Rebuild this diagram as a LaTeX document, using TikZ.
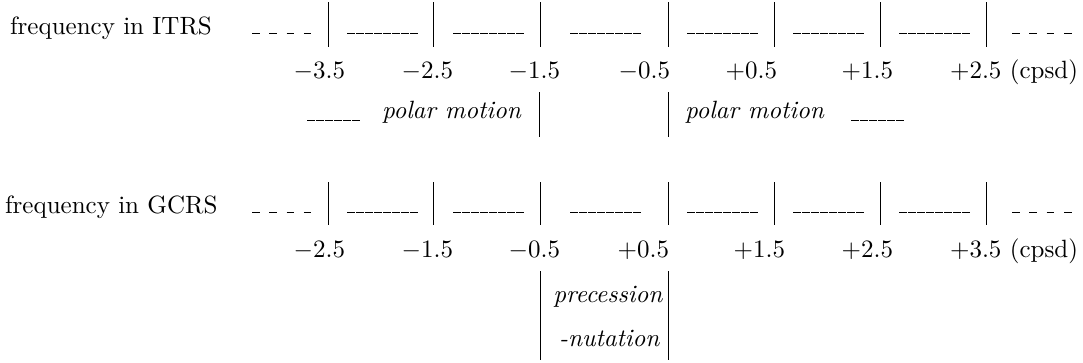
\documentclass[tikz,border=0pt]{standalone}
\newcommand\usc{\leavevmode\kern.06em\vbox{\hrule width.3em}}
\newcommand\usrun{\usc\usc\usc\usc\usc\usc\usc\usc}
\newcommand\usshort{\usc\usc\usc\usc\usc\usc}
\newcommand\usspaced{\usc\ \usc\ \usc\ \usc}
\begin{document}
\begin{tikzpicture}[x=0.4pt,y=-0.4pt,
  lbl/.style={inner sep=0pt,outer sep=0pt,font=\normalsize},
  bar/.style={line width=0.4pt,line cap=butt}]
\useasboundingbox (0,0) rectangle (1083,362);

% ---------------- ITRS row ----------------
\node[lbl,anchor=base west] (itrs) at (10,34) {frequency in ITRS};
\node[lbl,anchor=base west] (idl) at (250.5,34) {\usspaced};
\node[lbl,anchor=base west] (idr) at (1010.5,34) {\usspaced};
\foreach \x [count=\i] in {345.5,451.5,568.5,685.5,791.5,897.5}
  {\node[lbl,anchor=base west] (idash\i) at (\x,34) {\usrun};}
\foreach \x [count=\i] in {328,433,540,668,774,880,986}
  {\coordinate (it\i) at (\x,2); \coordinate (ib\i) at (\x,47);
   \draw[bar] (it\i) -- (ib\i);}

\foreach \x/\t [count=\i] in {345/-3.5,453/-2.5,560/-1.5,670/-0.5,777/+0.5,893/+1.5}
  {\node[lbl,anchor=base east] (inum\i) at (\x,78) {$\t$};}
\node[lbl,anchor=base east] (inum7) at (1078,78) {$+2.5$ (cpsd)};

\node[lbl,anchor=base west] (ipl) at (305.5,121) {\usshort};
\node[lbl,anchor=base west] (ipm1) at (382,118) {\textit{polar motion}};
\node[lbl,anchor=base west] (ipm2) at (685,118) {\textit{polar motion}};
\node[lbl,anchor=base west] (ipr) at (849.5,121) {\usshort};
\coordinate (pa1) at (539,92); \coordinate (pa2) at (539,137);
\coordinate (pb1) at (668,92); \coordinate (pb2) at (668,137);
\draw[bar] (pa1) -- (pa2);
\draw[bar] (pb1) -- (pb2);

% ---------------- GCRS row ----------------
\node[lbl,anchor=base west] (gcrs) at (5,213) {frequency in GCRS};
\node[lbl,anchor=base west] (gdl) at (250.5,213) {\usspaced};
\node[lbl,anchor=base west] (gdr) at (1010.5,213) {\usspaced};
\foreach \x [count=\i] in {345.5,451.5,568.5,685.5,791.5,897.5}
  {\node[lbl,anchor=base west] (gdash\i) at (\x,213) {\usrun};}
\foreach \x [count=\i] in {328,433,540,668,774,880,986}
  {\coordinate (gt\i) at (\x,182); \coordinate (gb\i) at (\x,225);
   \draw[bar] (gt\i) -- (gb\i);}

\foreach \x/\t [count=\i] in {345/-2.5,453/-1.5,560/-0.5,669/+0.5,785/+1.5,893/+2.5}
  {\node[lbl,anchor=base east] (gnum\i) at (\x,257) {$\t$};}
\node[lbl,anchor=base east] (gnum7) at (1078,257) {$+3.5$ (cpsd)};

\node[lbl,anchor=base east] (prec) at (663,302) {\textit{precession}};
\node[lbl,anchor=base east] (nut) at (660,346) {\textit{-nutation}};
\coordinate (qa1) at (540,271); \coordinate (qa2) at (540,360);
\coordinate (qb1) at (668,271); \coordinate (qb2) at (668,360);
\draw[bar] (qa1) -- (qa2);
\draw[bar] (qb1) -- (qb2);
\end{tikzpicture}
\end{document}
